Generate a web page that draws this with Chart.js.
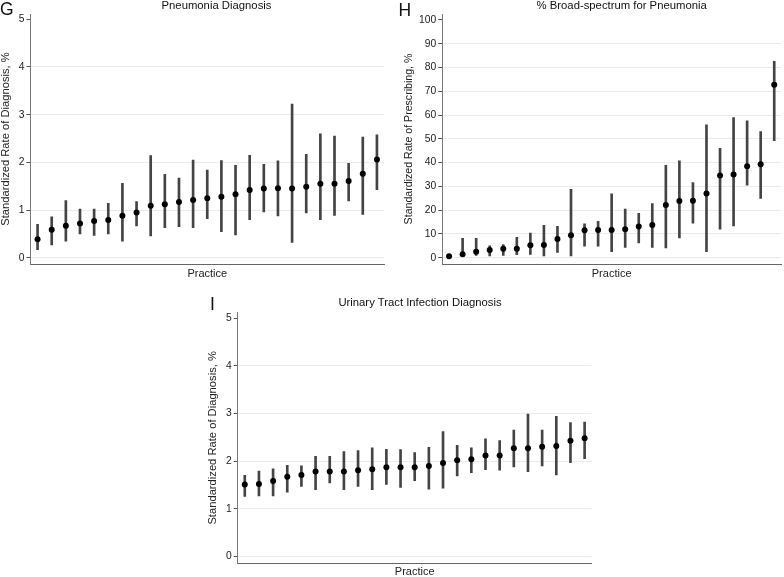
<!DOCTYPE html>
<html><head><meta charset="utf-8">
<script src="https://cdn.jsdelivr.net/npm/chart.js@4.4.1/dist/chart.umd.min.js"></script>
<style>
html,body{margin:0;padding:0;background:#fff;width:784px;height:577px;overflow:hidden;}
.wrap{position:absolute;}
.lbl{position:absolute;font-family:'Liberation Sans',Arial,sans-serif;color:#111;white-space:nowrap;}
.letter{font-size:17.5px;line-height:17.5px;}
.title{font-size:11.3px;line-height:11.3px;transform:translateX(-50%);}
</style></head><body>
<div class="wrap" style="left:0;top:0;width:392px;height:282px"><canvas id="cG"></canvas></div>
<div class="wrap" style="left:392px;top:0;width:392px;height:282px"><canvas id="cH"></canvas></div>
<div class="wrap" style="left:190px;top:285px;width:410px;height:292px"><canvas id="cI"></canvas></div>
<div class="lbl letter" style="left:0;top:1px">G</div>
<div class="lbl letter" style="left:398.6px;top:1.7px">H</div>
<div class="lbl letter" style="left:210px;top:296px">I</div>
<div class="lbl title" style="left:216.5px;top:0">Pneumonia Diagnosis</div>
<div class="lbl title" style="left:621.7px;top:0">% Broad-spectrum for Pneumonia</div>
<div class="lbl title" style="left:420px;top:297.4px">Urinary Tract Infection Diagnosis</div>
<script>
const practices = ['1','2','3','4','5','6','7','8','9','10','11','12','13','14','15','16','17','18','19','20','21','22','23','24','25'];

// G: Pneumonia Diagnosis (standardized rate, %)
const gMid  = [0.39,0.59,0.67,0.72,0.77,0.79,0.88,0.95,1.09,1.12,1.17,1.21,1.25,1.28,1.33,1.42,1.45,1.46,1.45,1.49,1.55,1.55,1.61,1.76,2.06];
const gLow  = [0.17,0.27,0.35,0.50,0.47,0.50,0.35,0.67,0.46,0.63,0.65,0.63,0.82,0.55,0.48,0.80,0.96,0.88,0.32,0.94,0.80,0.89,1.19,0.91,1.43];
const gHigh = [0.70,0.86,1.20,1.02,1.02,1.14,1.56,1.18,2.14,1.75,1.67,2.05,1.84,2.04,1.94,2.15,1.96,2.03,3.22,2.17,2.60,2.55,1.98,2.53,2.58];
const gTicks = [0,1,2,3,4,5];

// H: % Broad-spectrum for Pneumonia (standardized rate of prescribing, %)
const hMid  = [0.6,1.5,2.5,3.2,3.8,3.8,5.2,5.3,7.9,9.4,11.5,11.6,11.6,12.0,13.1,13.8,22.2,23.9,24.0,27.0,34.6,35.0,38.5,39.3,72.7];
const hLow  = [0.2,0.6,1.0,0.8,1.0,1.3,1.4,0.7,2.2,0.7,4.9,4.9,2.5,4.3,6.2,4.3,4.1,8.3,14.5,2.5,12.0,13.4,30.5,24.9,49.2];
const hHigh = [1.0,8.1,8.1,5.0,5.5,8.6,10.4,13.6,13.2,28.8,14.2,15.3,26.9,20.5,18.7,22.8,38.9,40.7,31.6,55.9,46.0,58.9,57.6,53.0,82.6];
const hTicks = [0,10,20,30,40,50,60,70,80,90,100];

// I: Urinary Tract Infection Diagnosis (standardized rate, %)
const iMid  = [1.51,1.52,1.58,1.67,1.71,1.78,1.78,1.78,1.81,1.83,1.87,1.87,1.87,1.90,1.96,2.02,2.04,2.12,2.12,2.27,2.27,2.30,2.32,2.43,2.48];
const iLow  = [1.26,1.27,1.27,1.35,1.47,1.40,1.54,1.40,1.47,1.40,1.51,1.45,1.59,1.41,1.43,1.69,1.76,1.82,1.81,1.88,1.78,1.90,1.71,1.97,2.05];
const iHigh = [1.70,1.79,1.84,1.91,1.90,2.10,2.10,2.20,2.22,2.28,2.25,2.24,2.18,2.29,2.62,2.33,2.28,2.47,2.43,2.65,2.99,2.65,2.94,2.81,2.82];
const iTicks = [0,1,2,3,4,5];

const FAM = "'Liberation Sans', Arial, sans-serif";

function build(id, c) {
  const topTick = c.ticks[c.ticks.length - 1];
  return new Chart(document.getElementById(id), {
    type: 'bar',
    data: {
      labels: practices,
      datasets: [
        { type: 'line', data: c.mid, showLine: false, pointRadius: 3, pointHoverRadius: 3,
          pointBackgroundColor: '#000', pointBorderColor: '#000', pointBorderWidth: 0, order: 0 },
        { type: 'bar', data: c.low.map((l, i) => [l, c.high[i]]), backgroundColor: '#444',
          barThickness: 2, borderWidth: 0, order: 1 }
      ]
    },
    options: {
      responsive: true, maintainAspectRatio: false, animation: false,
      layout: { padding: c.pad },
      plugins: { legend: { display: false }, tooltip: { enabled: false }, title: { display: false } },
      scales: {
        x: {
          type: 'category', offset: true,
          grid: { display: false },
          border: { display: true, color: '#666', width: 1 },
          ticks: { display: false },
          title: { display: true, text: 'Practice', color: '#222',
                   font: { family: FAM, size: 11, lineHeight: 1 }, padding: { top: 0, bottom: c.xTitlePad } },
          afterFit: s => { s.height = c.xH; }
        },
        y: {
          min: c.yMin, max: c.yMax,
          afterBuildTicks: s => { s.ticks = c.ticks.map(v => ({ value: v })); },
          grid: {
            color: ctx => (ctx.tick && ctx.tick.value === topTick) ? 'rgba(0,0,0,0)' : '#ebebeb',
            tickColor: '#555', tickLength: 4, lineWidth: 1
          },
          border: { display: true, color: '#777', width: 1 },
          ticks: { font: { family: FAM, size: 10.3 }, color: '#222', padding: 2 },
          title: { display: true, text: c.yTitle, color: '#222',
                   font: { family: FAM, size: c.yTitleSize, lineHeight: 1 }, padding: { top: 0, bottom: 0 } },
          afterFit: s => { s.width = c.yW; }
        }
      }
    }
  });
}

build('cG', { mid: gMid, low: gLow, high: gHigh, ticks: gTicks, yMin: -0.13, yMax: 5.11,
  yTitle: 'Standardized Rate of Diagnosis, %', yTitleSize: 11.2,
  pad: { top: 14, left: 0, right: 8, bottom: 0 }, yW: 30.5, xH: 18, xTitlePad: 3 });

build('cH', { mid: hMid, low: hLow, high: hHigh, ticks: hTicks, yMin: -2.65, yMax: 102.5,
  yTitle: 'Standardized Rate of Prescribing, %', yTitleSize: 10.6,
  pad: { top: 14, left: 12, right: 0, bottom: 0 }, yW: 38.3, xH: 18, xTitlePad: 3 });

build('cI', { mid: iMid, low: iLow, high: iHigh, ticks: iTicks, yMin: -0.14, yMax: 5.118,
  yTitle: 'Standardized Rate of Diagnosis, %', yTitleSize: 11.2,
  pad: { top: 27.7, left: 17.4, right: 8.3, bottom: 0 }, yW: 30.3, xH: 14, xTitlePad: 0 });
</script>
</body></html>
